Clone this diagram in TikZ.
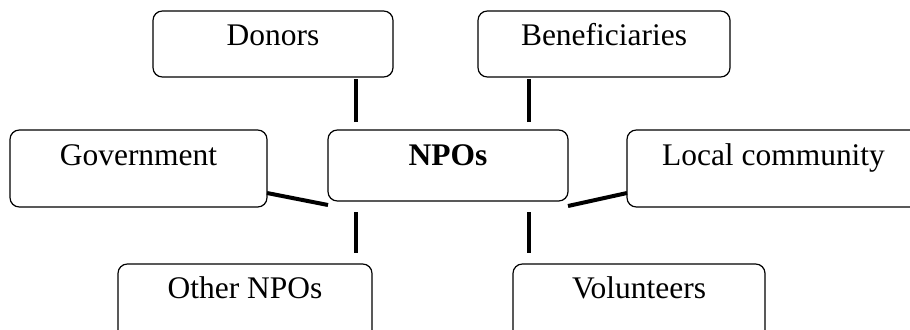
\documentclass[tikz,border=0pt]{standalone}
\usepackage{fontspec}
\setmainfont{Liberation Serif}
\usetikzlibrary{calc}
\begin{document}
\begin{tikzpicture}[x=0.75pt,y=-0.75pt,
  box/.style={draw, line width=0.9pt, rounded corners=7pt, rectangle,
    anchor=north west, inner xsep=0pt, inner ysep=0pt, outer sep=0pt,
    align=center, font=\fontsize{23.6}{28}\selectfont},
  toprow/.style={box, text height=25.5pt, text depth=24pt},
  midrow/.style={box, text height=26.25pt, text depth=31.5pt},
  botrow/.style={box, text height=25.5pt, text depth=45pt},
  link/.style={line width=3pt}]
\useasboundingbox (0,0) rectangle (910,329);
\clip (0,0) rectangle (910,329);
\fill[white] (0,0) rectangle (910,329);

% stakeholder boxes
\node[toprow, minimum width=180pt] (donors) at (153,11) {Donors};
\node[toprow, minimum width=189pt] (benef) at (478,11) {Beneficiaries};
\node[midrow, minimum width=192.75pt] (gov) at (10,130) {Government};
\node[box, minimum width=180pt, text height=26.25pt, text depth=27pt,
  font=\fontsize{23.6}{28}\selectfont\bfseries] (npos) at (328,130) {NPOs};
\node[midrow, minimum width=219.75pt] (local) at (627,130) {Local community};
\node[botrow, minimum width=190.5pt] (other) at (118,264) {Other NPOs};
\node[botrow, minimum width=189pt] (vol) at (513,264) {Volunteers};

% links to the central box
\draw[link] ($(npos.north west)+(28,-8)$) -- ($(npos.north west |- donors.south)+(28,2)$);
\draw[link] ($(npos.north east)+(-39,-8)$) -- ($(npos.north east |- benef.south)+(-39,2)$);
\draw[link] ($(gov.south east)+(0,-14)$) -- ($(npos.south west)+(0,4)$);
\draw[link] ($(npos.south east)+(0,5)$) -- ($(local.south west)+(0,-14)$);
\draw[link] ($(npos.south west)+(28,11)$) -- ($(npos.south west |- other.north)+(28,-11)$);
\draw[link] ($(npos.south east)+(-39,11)$) -- ($(npos.south east |- vol.north)+(-39,-11)$);
\end{tikzpicture}
\end{document}
